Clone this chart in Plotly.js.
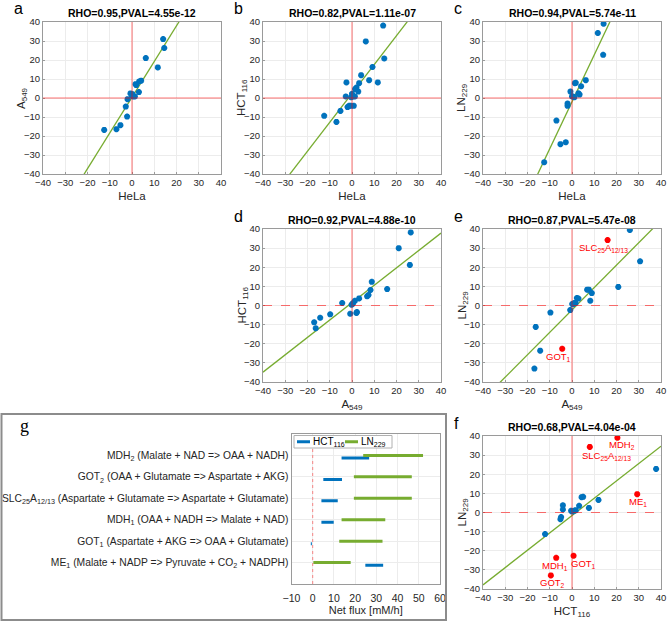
<!DOCTYPE html>
<html>
<head>
    <title>Flux correlation panels</title>
    <style>
        html, body, #plot {
            height: 100%;
            width: 100%;
            margin: 0;
            padding: 0;
            overflow: hidden;
            background: #ffffff;
        }
    </style>
    <script src="https://cdn.plot.ly/plotly-3.0.1.min.js"></script>
</head>

<body>
<div id="plot"></div>
<script>
    // ---- data ----
    // a: HeLa vs A549
    const aHela = [14.0, 14.5, 6.2, 11.6, 4.1, 3.2, 1.6, 1.9, 3.1, -0.7, 0.2, 1.3, 0.5, 0.0, -2.0, -2.8, -2.2, -5.2, -7.0, -12.5];
    const aA549 = [31.0, 26.3, 21.0, 16.1, 9.1, 8.7, 7.3, 6.8, 3.1, 2.4, 2.0, 0.8, 0.8, 1.1, -0.6, -4.5, -9.8, -14.3, -16.4, -16.8];
    // b: HeLa vs HCT116
    const bHela = [14.0, 6.2, 14.5, 9.2, 4.1, 7.7, 11.6, -2.5, 3.2, 2.0, 1.4, 2.8, 0.0, 0.5, -2.8, 1.3, -0.4, -2.0, -1.3, -0.5, 0.8, -5.2, -12.5, -7.0];
    const bHct = [38.1, 29.8, 20.8, 16.3, 12.0, 9.4, 8.2, 8.2, 7.8, 5.5, 4.7, 3.4, 2.2, 0.8, 0.8, 0.8, 0.4, -4.8, -4.1, -4.1, -4.1, -6.8, -9.4, -12.6];
    // c: HeLa vs LN229
    const cHela = [14.2, 11.6, 14.0, 6.2, 1.7, 1.3, 4.1, -0.7, 2.9, 3.4, 0.0, 0.5, 1.1, -2.0, -2.0, -7.0, -2.8, -5.2, -12.5];
    const cLn = [39.1, 34.2, 22.7, 9.4, 8.0, 7.8, 6.2, 3.4, 2.5, 1.8, 0.8, 0.8, 0.4, -2.9, -4.1, -11.9, -23.3, -24.3, -33.8];
    // d: A549 vs HCT116
    const dA549 = [26.4, 21.0, 26.0, 8.9, 15.8, 8.3, 7.4, 6.8, 3.2, 1.3, 0.5, 0.2, -4.4, -0.2, 2.2, 2.0, -0.8, -9.8, -14.3, -17.0, -16.3];
    const dHct = [38.2, 30.0, 21.2, 12.4, 8.6, 8.1, 5.5, 4.8, 3.7, 2.5, 1.3, 0.8, 1.3, 0.4, -3.4, -3.9, -4.3, -4.6, -6.4, -8.8, -11.9];
    // e: A549 vs LN229
    const eA549 = [26.0, 30.6, 20.8, 6.8, 7.6, 8.9, 2.2, 2.9, 8.2, 1.0, 1.6, 0.1, 0.5, -0.8, -9.7, -16.3, -14.3, -16.9];
    const eLn = [39.5, 23.1, 9.7, 8.3, 8.3, 6.5, 3.9, 3.6, 2.5, 1.3, 1.3, 0.8, 0.6, -2.4, -3.7, -11.2, -23.6, -33.0];
    const eOutX = [16.0, -4.4];
    const eOutY = [34.2, -22.6];
    const eOutNames = ['SLC<sub>25</sub>A<sub>12/13</sub>', 'GOT<sub>1</sub>'];
    // f: HCT116 vs LN229
    const fHct = [37.8, 11.9, 5.0, 4.3, 3.2, 7.6, 1.7, 1.0, 0.1, -0.4, -4.1, -4.1, -4.9, -5.2, -12.1];
    const fLn = [22.8, 6.6, 8.2, 8.0, 3.5, 2.4, 1.2, 0.9, 0.5, 0.9, 3.8, 1.6, -2.4, -3.5, -11.3];
    const fOutX = [20.4, 8.0, 29.3, -7.1, 0.7, -9.5];
    const fOutY = [39.1, 34.3, 9.6, -23.7, -22.6, -32.9];
    const fOutNames = ['MDH<sub>2</sub>', 'SLC<sub>25</sub>A<sub>12/13</sub>', 'ME<sub>1</sub>', 'MDH<sub>1</sub>', 'GOT<sub>1</sub>', 'GOT<sub>2</sub>'];

    // fitted lines (slope, intercept) and stats per panel a..f
    const fitSlope = [1.88, 1.52, 2.47, 0.909, 1.171, 0.906];
    const fitIntercept = [0.4, 2.4, -2.0, 1.5, -2.3, -1.6];
    const statText = [
        'RHO=0.95,PVAL=4.55e-12', 'RHO=0.82,PVAL=1.11e-07', 'RHO=0.94,PVAL=5.74e-11',
        'RHO=0.92,PVAL=4.88e-10', 'RHO=0.87,PVAL=5.47e-08', 'RHO=0.68,PVAL=4.04e-04'
    ];

    // g: flux ranges, listed top to bottom
    const reactions = [
        'MDH<sub>2</sub> (Malate + NAD => OAA + NADH)',
        'GOT<sub>2</sub> (OAA + Glutamate => Aspartate + AKG)',
        'SLC<sub>25</sub>A<sub>12/13</sub> (Aspartate + Glutamate => Aspartate + Glutamate)',
        'MDH<sub>1</sub> (OAA + NADH => Malate + NAD)',
        'GOT<sub>1</sub> (Aspartate + AKG => OAA + Glutamate)',
        'ME<sub>1</sub> (Malate + NADP => Pyruvate + CO<sub>2</sub> + NADPH)'
    ];
    const hctMin = [13.6, 5.0, 4.1, 4.1, -0.9, 24.8];
    const hctMax = [26.6, 13.8, 11.8, 9.9, -0.4, 33.2];
    const lnMin = [23.8, 19.4, 19.4, 13.6, 12.5, 0.3];
    const lnMax = [52.0, 46.7, 46.7, 34.2, 32.9, 17.9];
    const seriesNames = ['HCT<sub>116</sub>', 'LN<sub>229</sub>'];

    // ---- layout helpers ----
    const W = 667, H = 622;
    const fx = function (p) { return p / W; };
    const fy = function (p) { return 1 - p / H; };
    // pixel boxes [left, right, top, bottom]
    const boxes = [
        [43, 221, 22, 174], [263, 441, 22, 174], [483, 661, 22, 174],
        [263, 441, 229, 382], [483, 661, 229, 382], [483, 661, 436, 589]
    ];
    const gBox = [291.5, 440, 434, 584];
    const letters = ['a', 'b', 'c', 'd', 'e', 'f'];
    const xNames = ['HeLa', 'HeLa', 'HeLa', 'A<sub>549</sub>', 'A<sub>549</sub>', 'HCT<sub>116</sub>'];
    const yNames = ['A<sub>549</sub>', 'HCT<sub>116</sub>', 'LN<sub>229</sub>', 'HCT<sub>116</sub>', 'LN<sub>229</sub>', 'LN<sub>229</sub>'];
    const xs = [aHela, bHela, cHela, dA549, eA549, fHct];
    const ys = [aA549, bHct, cLn, dHct, eLn, fLn];

    const blue = '#0072BD';
    const green = '#77AC30';
    const red = '#FF0000';
    const font = 'Arial, "Liberation Sans", sans-serif';
    const tickFont = {family: font, size: 9.5, color: '#262626'};
    const labelFont = {family: font, size: 11.5, color: '#262626'};

    const data = [];
    const layout = {
        width: W,
        height: H,
        margin: {l: 0, r: 0, t: 0, b: 0, pad: 0},
        paper_bgcolor: '#ffffff',
        plot_bgcolor: '#ffffff',
        showlegend: false,
        font: {family: font, color: '#262626'},
        shapes: [],
        annotations: []
    };

    function axisSuffix(k) { return k === 1 ? '' : String(k); }

    for (let i = 0; i < 6; i++) {
        const k = i + 1;
        const s = axisSuffix(k);
        const b = boxes[i];
        const xa = 'x' + s, ya = 'y' + s;
        const common = {
            range: [-40, 40], dtick: 10, tick0: 0,
            showgrid: true, gridcolor: '#ececec', gridwidth: 1,
            zeroline: false, showline: true, mirror: true,
            linecolor: '#9a9a9a', linewidth: 1,
            ticks: 'inside', ticklen: 2, tickcolor: '#9a9a9a',
            tickfont: tickFont, fixedrange: true
        };
        layout['xaxis' + s] = Object.assign({}, common, {
            domain: [fx(b[0]), fx(b[1])], anchor: ya,
            title: {text: xNames[i], font: labelFont, standoff: 4}
        });
        layout['yaxis' + s] = Object.assign({}, common, {
            domain: [fy(b[3]), fy(b[2])], anchor: xa
        });
        // y label placed closer to the tick labels, like the original
        layout.annotations.push({
            xref: 'paper', yref: 'paper', x: fx(b[0] - 21), y: fy((b[2] + b[3]) / 2),
            xanchor: 'center', yanchor: 'middle', textangle: -90, showarrow: false,
            text: yNames[i], font: labelFont
        });

        // red zero lines
        const dashStyle = i >= 3 ? 'dash' : 'solid';
        layout.shapes.push({type: 'line', xref: xa, yref: ya + ' domain', x0: 0, x1: 0, y0: 0, y1: 1,
            line: {color: 'rgba(255,0,0,0.55)', width: 1}});
        layout.shapes.push({type: 'line', xref: xa + ' domain', yref: ya, x0: 0, x1: 1, y0: 0, y1: 0,
            line: {color: 'rgba(255,0,0,0.55)', width: 1, dash: dashStyle}});

        // fit line
        data.push({
            x: [-40, 40],
            y: [-40 * fitSlope[i] + fitIntercept[i], 40 * fitSlope[i] + fitIntercept[i]],
            xaxis: xa, yaxis: ya, type: 'scatter', mode: 'lines',
            line: {color: green, width: 1.3}, hoverinfo: 'skip'
        });
        // points
        data.push({
            x: xs[i], y: ys[i], xaxis: xa, yaxis: ya, type: 'scatter', mode: 'markers',
            marker: {symbol: 'asterisk-open', size: 5, color: blue, line: {color: blue, width: 2}}
        });

        // title + panel letter
        layout.annotations.push({
            xref: 'paper', yref: 'paper', x: fx((b[0] + b[1]) / 2), y: fy(b[2]),
            yanchor: 'bottom', xanchor: 'center', yshift: 1, showarrow: false,
            text: '<b>' + statText[i] + '</b>', font: {family: font, size: 10.5, color: '#000000'}
        });
        layout.annotations.push({
            xref: 'paper', yref: 'paper', x: fx(b[0] - 31), y: fy(b[2] - 13),
            xanchor: 'left', yanchor: 'middle', showarrow: false,
            text: letters[i], font: {family: font, size: 16, color: '#000000'}
        });
    }

    // highlighted (red) points in e and f, label offsets in px
    const outSets = [
        {k: 5, x: eOutX, y: eOutY, names: eOutNames, dx: [-4, -4], dy: [-8, -8]},
        {k: 6, x: fOutX, y: fOutY, names: fOutNames, dx: [5, 17, 1, -1, 10, 2], dy: [-7, -9, -8, -8, -8, -8]}
    ];
    outSets.forEach(function (o) {
        const s = axisSuffix(o.k);
        data.push({
            x: o.x, y: o.y, xaxis: 'x' + s, yaxis: 'y' + s, type: 'scatter', mode: 'markers',
            marker: {symbol: 'asterisk-open', size: 5, color: red, line: {color: red, width: 2}}
        });
        o.names.forEach(function (name, j) {
            layout.annotations.push({
                xref: 'x' + s, yref: 'y' + s, x: o.x[j], y: o.y[j], showarrow: false,
                xanchor: 'center', yanchor: 'middle', xshift: o.dx[j], yshift: o.dy[j],
                text: name, font: {family: font, size: 9.5, color: red}
            });
        });
    });

    // ---- panel g ----
    const nR = reactions.length;
    const rowPos = reactions.map(function (r, i) { return nR - i; });
    const hctX = [], hctY = [], lnX = [], lnY = [];
    for (let i = 0; i < nR; i++) {
        hctX.push(hctMin[i], hctMax[i], null);
        hctY.push(rowPos[i] - 0.12, rowPos[i] - 0.12, null);
        lnX.push(lnMin[i], lnMax[i], null);
        lnY.push(rowPos[i], rowPos[i], null);
    }
    data.push({
        x: hctX, y: hctY, xaxis: 'x7', yaxis: 'y7', type: 'scatter', mode: 'lines',
        name: seriesNames[0], line: {color: blue, width: 3}, connectgaps: false
    });
    data.push({
        x: lnX, y: lnY, xaxis: 'x7', yaxis: 'y7', type: 'scatter', mode: 'lines',
        name: seriesNames[1], line: {color: green, width: 3}, connectgaps: false
    });

    layout.xaxis7 = {
        domain: [fx(gBox[0]), fx(gBox[1])], anchor: 'y7', range: [-10, 60], dtick: 10, tick0: 0,
        showgrid: true, gridcolor: '#ececec', zeroline: false, showline: true, mirror: true,
        linecolor: '#9a9a9a', linewidth: 1, fixedrange: true,
        ticks: 'outside', ticklen: 4, tickcolor: 'rgba(0,0,0,0)',
        tickfont: {family: font, size: 10.5, color: '#262626'},
        title: {text: 'Net flux [mM/h]', font: {family: font, size: 11, color: '#262626'}, standoff: 2}
    };
    layout.yaxis7 = {
        domain: [fy(gBox[3]), fy(gBox[2])], anchor: 'x7', range: [0, 7],
        tickvals: rowPos, ticktext: reactions,
        showgrid: true, gridcolor: '#ececec', zeroline: false, showline: true, mirror: true,
        linecolor: '#9a9a9a', linewidth: 1, ticks: '',
        tickfont: {family: font, size: 10.3, color: '#262626'}, fixedrange: true
    };
    layout.shapes.push({type: 'line', xref: 'x7', yref: 'y7 domain', x0: 0, x1: 0, y0: 0, y1: 1,
        line: {color: 'rgba(255,0,0,0.45)', width: 1, dash: 'dot'}});
    // grey frame around panel g
    layout.shapes.push({type: 'rect', xref: 'paper', yref: 'paper',
        x0: fx(1.5), x1: fx(446), y0: fy(620), y1: fy(414),
        line: {color: '#8c8c8c', width: 2}});
    layout.annotations.push({
        xref: 'paper', yref: 'paper', x: fx(18), y: fy(426), xanchor: 'left', yanchor: 'middle',
        showarrow: false, text: 'g', font: {family: '"Liberation Serif", "DejaVu Serif", serif', size: 18, color: '#000000'}
    });

    // compact legend box in the top-left corner of g
    const legX = [294, 392], legY = [435.5, 448];
    layout.shapes.push({type: 'rect', xref: 'paper', yref: 'paper',
        x0: fx(legX[0]), x1: fx(legX[1]), y0: fy(legY[1]), y1: fy(legY[0]),
        fillcolor: '#ffffff', line: {color: '#b0b0b0', width: 1}, layer: 'above'});
    const legMid = (legY[0] + legY[1]) / 2;
    [[blue, 297, 311], [green, 345, 359]].forEach(function (e, j) {
        layout.shapes.push({type: 'line', xref: 'paper', yref: 'paper',
            x0: fx(e[1]), x1: fx(e[1] + 13), y0: fy(legMid), y1: fy(legMid),
            line: {color: e[0], width: 3}, layer: 'above'});
        layout.annotations.push({
            xref: 'paper', yref: 'paper', x: fx(e[2]), y: fy(legMid + 0.5), xanchor: 'left', yanchor: 'middle',
            showarrow: false, text: seriesNames[j], font: {family: font, size: 10, color: '#000000'}
        });
    });

    Plotly.newPlot('plot', data, layout, {displayModeBar: false, staticPlot: true});
</script>
</body>
</html>
